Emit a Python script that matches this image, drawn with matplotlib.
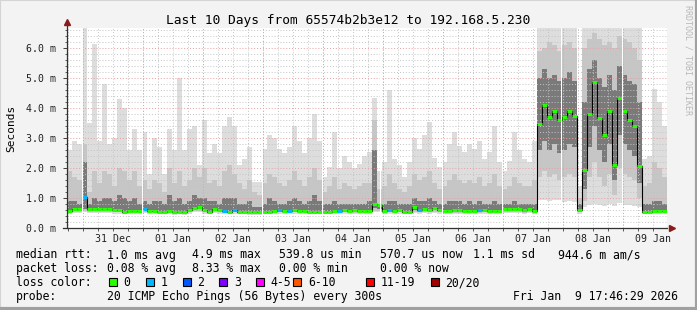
import numpy as np
import pandas as pd
import matplotlib
matplotlib.use("Agg")
import matplotlib.pyplot as plt
import matplotlib.dates as mdates
from matplotlib.ticker import MultipleLocator, FuncFormatter
from matplotlib.patches import Rectangle

W, H = 697, 310
MONO = "DejaVu Sans Mono"

START = "2025-12-30 17:46:29"
STEP = "2h"

# smoke per 2 hour column (ms); 6.8 = off the top
rtt_max = [2.6, 2.9, 2.8, 6.8, 3.5, 6.15, 2.9, 4.8, 2.8, 3.0, 4.3, 4.0,
           2.6, 3.3, 2.6, 3.2, 1.8, 3.0, 2.7, 1.8, 3.3, 2.6, 5.0, 2.6,
           3.3, 3.4, 2.1, 3.6, 2.5, 2.8, 2.5, 3.4, 3.7, 3.4, 2.1, 2.3,
           2.7, 1.55, 1.55, 2.65, 3.1, 3.0, 2.65, 2.5, 2.7, 3.4, 2.9, 2.5,
           3.0, 3.8, 2.9, 1.7, 2.05, 3.2, 2.0, 2.4, 2.2, 2.0, 2.15, 2.4,
           2.55, 4.35, 1.9, 2.2, 4.6, 2.3, 2.1, 1.7, 2.2, 3.0, 2.65, 3.1,
           3.55, 2.35, 2.05, 2.2, 2.8, 3.2, 2.75, 2.55, 2.8, 2.65, 2.9, 2.3,
           2.55, 3.4, 2.2, 1.9, 2.25, 3.2, 2.6, 2.3, 2.2, 2.9, 6.8, 6.8,
           6.8, 6.8, 6.8, 6.8, 6.8, 6.8, 1.4, 6.8, 6.8, 6.8, 6.8, 6.8,
           6.8, 6.8, 6.8, 6.8, 6.8, 6.8, 6.8, 2.3, 2.4, 4.65, 4.2, 3.4]

rtt_p90 = [1.9, 1.7, 1.6, 2.8, 1.2, 1.9, 1.5, 1.9, 1.8, 1.4, 2.0, 1.9,
           1.6, 1.9, 1.4, 1.6, 1.3, 1.6, 1.5, 1.2, 2.0, 1.5, 1.9, 1.4,
           1.6, 2.0, 1.7, 2.0, 1.5, 1.6, 1.4, 1.9, 2.1, 1.8, 1.5, 1.3,
           1.6, 1.2, 1.1, 1.5, 1.8, 1.7, 1.5, 1.4, 1.6, 1.9, 1.6, 1.4,
           1.7, 2.0, 1.6, 1.2, 1.4, 1.7, 1.3, 1.5, 1.4, 1.3, 1.4, 1.5,
           1.5, 3.6, 1.3, 1.4, 1.8, 1.5, 1.3, 1.2, 1.4, 1.8, 1.6, 1.7,
           1.9, 1.5, 1.3, 1.4, 1.6, 1.8, 1.6, 1.5, 1.6, 1.5, 1.7, 1.4,
           1.5, 1.8, 1.4, 1.3, 1.4, 1.7, 1.5, 1.4, 1.4, 1.6, 5.9, 6.0,
           6.2, 6.1, 5.9, 6.1, 6.2, 6.0, 1.0, 6.0, 6.3, 6.5, 6.3, 6.1,
           6.2, 6.0, 6.4, 6.3, 6.2, 6.0, 5.6, 1.4, 1.5, 2.2, 2.0, 1.7]

rtt_p75 = [0.9, 0.9, 0.8, 2.2, 0.8, 1.0, 0.9, 1.0, 1.0, 0.9, 1.1, 1.0,
           0.9, 1.0, 0.8, 0.9, 0.8, 0.9, 0.9, 0.8, 1.1, 0.9, 1.0, 0.8,
           0.9, 1.1, 1.0, 1.0, 0.9, 0.9, 0.8, 1.0, 1.0, 1.0, 0.8, 0.8,
           0.9, 0.7, 0.7, 0.8, 1.0, 0.9, 0.8, 0.8, 0.9, 1.0, 0.9, 0.8,
           0.9, 1.1, 0.9, 0.8, 0.8, 0.9, 0.8, 0.8, 0.8, 0.8, 0.8, 0.8,
           0.9, 2.6, 0.8, 0.8, 0.9, 0.9, 0.8, 0.8, 0.8, 1.0, 0.9, 0.9,
           1.0, 0.9, 0.8, 0.8, 0.9, 0.9, 0.9, 0.8, 0.9, 0.8, 0.9, 0.8,
           0.8, 0.9, 0.8, 0.8, 0.8, 0.9, 0.8, 0.8, 0.8, 0.8, 5.0, 5.3,
           5.0, 5.1, 4.9, 5.0, 5.2, 4.9, 0.8, 4.2, 5.3, 5.6, 5.0, 4.7,
           5.1, 4.6, 5.4, 5.1, 4.9, 4.8, 4.2, 0.8, 0.8, 0.9, 0.9, 0.8]

rtt_median = [0.57, 0.63, 0.63, 1.03, 0.63, 0.62, 0.63, 0.62, 0.65, 0.60, 0.60, 0.55,
              0.58, 0.58, 0.57, 0.62, 0.57, 0.57, 0.55, 0.55, 0.57, 0.52, 0.55, 0.52,
              0.60, 0.66, 0.71, 0.60, 0.55, 0.62, 0.60, 0.58, 0.55, 0.60, 0.55, 0.55,
              0.52, 0.52, 0.52, 0.55, 0.55, 0.57, 0.60, 0.58, 0.58, 0.60, 0.58, 0.57,
              0.55, 0.55, 0.55, 0.55, 0.55, 0.57, 0.58, 0.60, 0.57, 0.59, 0.57, 0.56,
              0.57, 0.80, 0.77, 0.57, 0.60, 0.58, 0.60, 0.55, 0.55, 0.71, 0.60, 0.63,
              0.60, 0.66, 0.60, 0.57, 0.57, 0.59, 0.59, 0.57, 0.57, 0.57, 0.59, 0.60,
              0.57, 0.57, 0.57, 0.62, 0.62, 0.63, 0.63, 0.59, 0.62, 0.58, 3.47, 4.10,
              3.70, 3.90, 3.60, 3.70, 3.90, 3.75, 0.60, 1.93, 3.80, 4.87, 3.67, 3.10,
              3.90, 2.10, 4.35, 3.90, 3.60, 3.40, 2.08, 0.55, 0.55, 0.56, 0.56, 0.57]

rtt_p25 = [0.53, 0.58, 0.58, 0.62, 0.58, 0.57, 0.58, 0.57, 0.60, 0.56, 0.56, 0.52,
           0.54, 0.54, 0.53, 0.57, 0.53, 0.53, 0.52, 0.52, 0.53, 0.49, 0.52, 0.49,
           0.56, 0.61, 0.63, 0.56, 0.52, 0.57, 0.56, 0.54, 0.52, 0.56, 0.52, 0.52,
           0.49, 0.49, 0.49, 0.52, 0.52, 0.53, 0.56, 0.54, 0.54, 0.56, 0.54, 0.53,
           0.52, 0.52, 0.52, 0.52, 0.52, 0.53, 0.54, 0.56, 0.53, 0.55, 0.53, 0.52,
           0.53, 0.66, 0.65, 0.53, 0.56, 0.54, 0.56, 0.52, 0.52, 0.60, 0.56, 0.58,
           0.56, 0.60, 0.56, 0.53, 0.53, 0.55, 0.55, 0.53, 0.53, 0.53, 0.55, 0.56,
           0.53, 0.53, 0.53, 0.57, 0.57, 0.58, 0.58, 0.55, 0.57, 0.54, 2.6, 2.9,
           2.6, 2.8, 2.5, 2.6, 2.8, 2.7, 0.56, 1.3, 2.7, 3.4, 2.6, 2.2,
           2.8, 1.6, 3.1, 2.8, 2.6, 2.4, 1.5, 0.52, 0.52, 0.53, 0.53, 0.54]

rtt_p10 = [0.50, 0.54, 0.54, 0.56, 0.54, 0.53, 0.54, 0.53, 0.55, 0.52, 0.52, 0.49,
           0.51, 0.51, 0.50, 0.53, 0.50, 0.50, 0.49, 0.49, 0.50, 0.47, 0.49, 0.47,
           0.52, 0.56, 0.57, 0.52, 0.49, 0.53, 0.52, 0.51, 0.49, 0.52, 0.49, 0.49,
           0.47, 0.47, 0.47, 0.49, 0.49, 0.50, 0.52, 0.51, 0.51, 0.52, 0.51, 0.50,
           0.49, 0.49, 0.49, 0.49, 0.49, 0.50, 0.51, 0.52, 0.50, 0.51, 0.50, 0.49,
           0.50, 0.58, 0.58, 0.50, 0.52, 0.51, 0.52, 0.49, 0.49, 0.55, 0.52, 0.53,
           0.52, 0.55, 0.52, 0.50, 0.50, 0.51, 0.51, 0.50, 0.50, 0.50, 0.51, 0.52,
           0.50, 0.50, 0.50, 0.53, 0.53, 0.54, 0.54, 0.51, 0.53, 0.51, 1.7, 1.9,
           1.7, 1.8, 1.6, 1.7, 1.8, 1.7, 0.52, 0.9, 1.7, 2.2, 1.7, 1.4,
           1.8, 1.1, 2.0, 1.8, 1.7, 1.6, 1.0, 0.49, 0.49, 0.50, 0.50, 0.51]

rtt_min = [0.47, 0.50, 0.50, 0.52, 0.50, 0.49, 0.50, 0.49, 0.51, 0.48, 0.48, 0.46,
           0.48, 0.48, 0.47, 0.49, 0.47, 0.47, 0.46, 0.46, 0.47, 0.44, 0.46, 0.44,
           0.48, 0.52, 0.53, 0.48, 0.46, 0.49, 0.48, 0.47, 0.46, 0.48, 0.46, 0.46,
           0.44, 0.44, 0.44, 0.46, 0.46, 0.47, 0.48, 0.47, 0.47, 0.48, 0.47, 0.47,
           0.46, 0.46, 0.46, 0.46, 0.46, 0.47, 0.47, 0.48, 0.47, 0.48, 0.47, 0.46,
           0.47, 0.52, 0.52, 0.47, 0.48, 0.47, 0.48, 0.46, 0.46, 0.50, 0.48, 0.49,
           0.48, 0.50, 0.48, 0.47, 0.47, 0.47, 0.47, 0.47, 0.47, 0.47, 0.47, 0.48,
           0.47, 0.47, 0.47, 0.49, 0.49, 0.50, 0.50, 0.47, 0.49, 0.47, 0.95, 0.92,
           0.90, 0.95, 0.93, 0.88, 0.90, 0.87, 0.48, 0.70, 0.78, 0.80, 0.76, 0.74,
           0.80, 0.72, 0.82, 0.78, 0.76, 0.75, 0.70, 0.46, 0.46, 0.47, 0.47, 0.48]

# lost pings per column (index into loss legend)
loss = [0, 0, 0, 1, 0, 0, 0, 0, 0, 0, 0, 0,
        0, 0, 0, 1, 0, 0, 0, 0, 0, 0, 0, 0,
        0, 0, 0, 0, 0, 0, 0, 1, 0, 1, 0, 0,
        0, 0, 0, 0, 0, 0, 1, 0, 1, 0, 0, 0,
        0, 0, 0, 0, 0, 0, 1, 0, 0, 0, 0, 0,
        0, 0, 0, 0, 1, 0, 0, 0, 0, 0, 1, 0,
        0, 0, 0, 0, 0, 0, 0, 0, 0, 0, 1, 0,
        0, 0, 0, 0, 0, 0, 0, 0, 0, 0, 0, 0,
        0, 0, 0, 0, 0, 0, 0, 0, 0, 0, 0, 0,
        0, 0, 0, 0, 0, 0, 0, 0, 0, 0, 0, 0]

# hours after START with no data
gap_hours = [5.9, 29.9, 77.9, 101.9, 125.2, 149.9, 173.9, 197.5, 221.9]

loss_labels = ["0", "1", "2", "3", "4-5", "6-10", "11-19", "20/20"]
loss_colors = ["#26ff00", "#00b8ff", "#0059ff", "#7e00ff",
               "#ff00ff", "#ff5500", "#ff0000", "#a10000"]


def ext(v):
    v = np.asarray(v, dtype=float)
    return np.append(v, v[-1])


fig = plt.figure(figsize=(W / 100, H / 100), dpi=100, facecolor="#f3f3f3")
ax = fig.add_axes([67 / W, 1 - 228 / H, 600 / W, 200 / H])
ax.set_facecolor("white")

edges = pd.date_range(START, periods=len(rtt_median) + 1, freq=STEP)
x = mdates.date2num(edges)

ax.fill_between(x, ext(rtt_min), ext(rtt_max), step="post", color="#dddddd", lw=0, zorder=1)
ax.fill_between(x, ext(rtt_p10), ext(rtt_p90), step="post", color="#c6c6c6", lw=0, zorder=1.1)
ax.fill_between(x, ext(rtt_p25), ext(rtt_p75), step="post", color="#7a7a7a", lw=0, zorder=1.2)

ax.step(x, ext(rtt_median), where="post", color="black", lw=0.8, zorder=3)
ax.hlines(rtt_median, x[:-1], x[1:], colors=[loss_colors[l] for l in loss], lw=2.2, zorder=3.05)

start = pd.Timestamp(START)
px_h = pd.Timedelta(minutes=24)
for h in gap_hours:
    t0 = start + pd.Timedelta(hours=h)
    ax.axvspan(mdates.date2num(t0), mdates.date2num(t0 + px_h), color="white", lw=0, zorder=3.1)

ax.set_xlim(x[0], x[-1])
ax.set_ylim(0, 6.67)

# y axis
ax.yaxis.set_major_locator(MultipleLocator(1))
ax.yaxis.set_minor_locator(MultipleLocator(0.2))
ax.yaxis.set_major_formatter(FuncFormatter(lambda v, p: f"{v:.1f} m"))
ax.tick_params(axis="y", which="major", length=3, width=0.7, color="#404040",
               labelsize=7.1, pad=5)
ax.tick_params(axis="y", which="minor", length=1.5, width=0.6, color="#404040")

# x axis: labels at noon, grey grid every 6h, red at midnight
ax.xaxis.set_major_locator(mdates.HourLocator(byhour=12))
ax.xaxis.set_major_formatter(mdates.DateFormatter("%d %b"))
ax.xaxis.set_minor_locator(mdates.HourLocator(byhour=[0, 6, 12, 18]))
ax.xaxis.remove_overlapping_locs = False
ax.tick_params(axis="x", which="major", length=0, labelsize=7.1, pad=4.5)
ax.tick_params(axis="x", which="minor", length=2, width=0.6, color="#404040")
for lab in ax.get_xticklabels() + ax.get_yticklabels():
    lab.set_family(MONO)
    lab.set_color("#202020")

ax.grid(which="minor", axis="both", color="#c4c4c4", ls=(0, (1, 2)), lw=0.7, zorder=2.5)
ax.grid(which="major", axis="y", color="#e8a0a0", ls=(0, (1, 2)), lw=0.7)
ax.grid(which="major", axis="x", visible=False)
ax.set_axisbelow(False)
midnights = pd.date_range(start.normalize() + pd.Timedelta(days=1), edges[-1], freq="D")
for d in mdates.date2num(midnights):
    ax.axvline(d, color="#e8a0a0", ls=(0, (1, 2)), lw=0.7, zorder=3.2)

for s in ax.spines.values():
    s.set_visible(False)
ax.plot([0, 0], [0, 1.02], transform=ax.transAxes, color="#303030", lw=0.9, clip_on=False, zorder=5)
ax.plot([-0.006, 1.0], [0, 0], transform=ax.transAxes, color="#303030", lw=0.9, clip_on=False, zorder=5)
ax.plot([0], [1.03], marker="^", ms=5, color="#8b1a1a", transform=ax.transAxes, clip_on=False, zorder=6)
ax.plot([1.0075], [0], marker=">", ms=5, color="#8b1a1a", transform=ax.transAxes, clip_on=False, zorder=6)


# texts
def ftext(xp, yp, s, size=8.3, **kw):
    fig.text(xp / W, 1 - yp / H, s, family=MONO, fontsize=size, va="baseline", **kw)


ftext(348, 24, "Last 10 Days from 65574b2b3e12 to 192.168.5.230", size=9.3, ha="center")
fig.text(11 / W, 1 - 128 / H, "Seconds", family=MONO, fontsize=8, rotation=90,
         ha="center", va="center")
fig.text(688 / W, 1 - 5 / H, "RRDTOOL / TOBI OETIKER", family=MONO, fontsize=6,
         rotation=270, ha="center", va="top", color="#b8b8b8")

col_x = [107, 192, 279, 380, 473, 558]
ftext(16, 258.5, "median rtt:")
for xp, s in zip(col_x, ["1.0 ms avg", "4.9 ms max", "539.8 us min",
                         "570.7 us now", "1.1 ms sd", "944.6 m am/s"]):
    ftext(xp, 258.5, s)
ftext(16, 272.3, "packet loss:")
for xp, s in zip(col_x, ["0.08 % avg", "8.33 % max", "0.00 % min", "0.00 % now"]):
    ftext(xp, 272.3, s)
ftext(16, 286.2, "loss color:")
box_x = [109, 145.7, 182.7, 219.3, 256, 293.3, 365.7, 430.7]
for bx, lab, col in zip(box_x, loss_labels, loss_colors):
    fig.add_artist(Rectangle((bx / W, 1 - 286 / H), 8 / W, 8 / H, facecolor=col,
                             edgecolor="black", lw=0.8, transform=fig.transFigure))
    ftext(bx + 14.5, 286.2, lab)
ftext(16, 300, "probe:")
ftext(107, 300, "20 ICMP Echo Pings (56 Bytes) every 300s")
ftext(513, 300, "Fri Jan  9 17:46:29 2026")

# image frame
fig.add_artist(plt.Line2D([0, 0, 1], [0, 1, 1], transform=fig.transFigure, color="#d4d4d4", lw=1.5))
fig.add_artist(plt.Line2D([0, 1, 1], [0.003, 0.003, 1], transform=fig.transFigure, color="#a0a0a0", lw=3))

fig.savefig("out.png", dpi=100, facecolor=fig.get_facecolor())
